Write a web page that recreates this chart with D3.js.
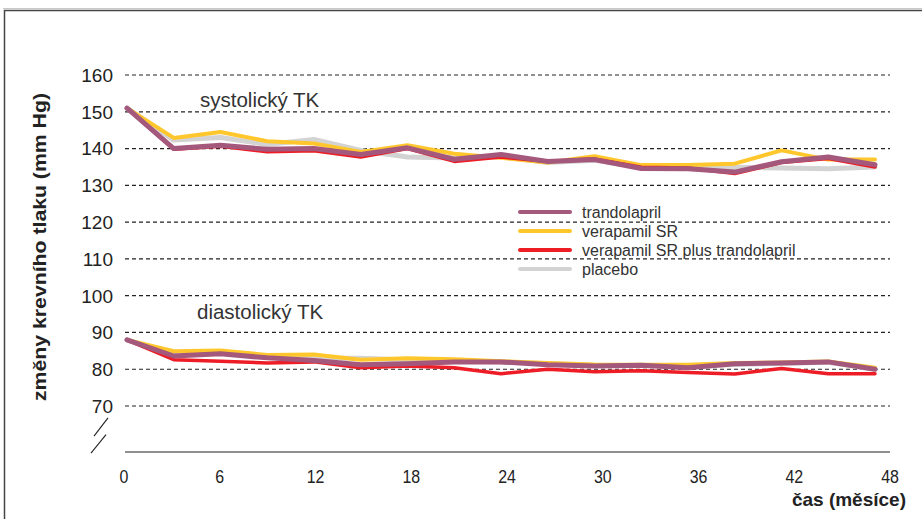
<!DOCTYPE html>
<html>
<head>
<meta charset="utf-8">
<script src="https://cdn.jsdelivr.net/npm/d3@7"></script>
<style>
  html, body { margin: 0; padding: 0; background: #fff; }
  svg { display: block; }
</style>
</head>
<body>
<svg id="chart" width="922" height="519"></svg>
<script>
// ---- data ----
const months = [0, 3, 6, 9, 12, 15, 18, 21, 24, 27, 30, 33, 36, 39, 42, 45, 48];
const xTicks = [0, 6, 12, 18, 24, 30, 36, 42, 48];
const yTicks = [70, 80, 90, 100, 110, 120, 130, 140, 150, 160];
const seriesNames = ["trandolapril", "verapamil SR", "verapamil SR plus trandolapril", "placebo"];

const sysTrandolapril = [151, 140, 140.9, 139.8, 140, 138.4, 140.2, 137.1, 138.4, 136.5, 137, 134.6, 134.5, 133.6, 136.4, 137.7, 135.6];
const sysVerapamil    = [151, 142.9, 144.5, 142, 141.4, 139.1, 140.9, 138.6, 137.5, 136.2, 137.9, 135.5, 135.5, 135.9, 139.5, 137, 137];
const sysCombo        = [151, 139.8, 140.6, 139.1, 139.4, 137.7, 140, 136.5, 137.7, 136.5, 137.2, 134.9, 134.7, 133.2, 136.2, 137.3, 135];
const sysPlacebo      = [151, 142.3, 143, 141.1, 142.5, 139.5, 137.7, 137.4, 137.8, 136.2, 136.8, 134.9, 134.9, 134.9, 134.7, 134.5, 135];

const diaTrandolapril = [88, 83.6, 84.2, 83.1, 82.4, 81.25, 81.5, 82, 82, 81.25, 80.9, 81.1, 80.4, 81.5, 81.7, 82, 80];
const diaVerapamil    = [88, 84.9, 85.1, 83.9, 84, 82.6, 83, 82.7, 82.2, 81.7, 81.3, 81.25, 81.25, 81.7, 81.8, 82.1, 80.4];
const diaCombo        = [88, 82.6, 82.2, 81.7, 82, 80.4, 80.9, 80.4, 78.8, 80, 79.3, 79.6, 79.1, 78.7, 80.2, 78.8, 78.8];
const diaPlacebo      = [88, 83.9, 84.5, 83.5, 83, 83, 82.5, 82.3, 82, 81.5, 81, 81, 80.8, 81.3, 81.6, 81.9, 80];

// ---- styles ----
const colors = { "trandolapril": "#A3587C", "verapamil SR": "#FFC72C", "verapamil SR plus trandolapril": "#EE1C25", "placebo": "#D3D3D3" };
const widths = { "trandolapril": 5, "verapamil SR": 4, "verapamil SR plus trandolapril": 3.5, "placebo": 5 };
const drawOrder = ["placebo", "verapamil SR", "verapamil SR plus trandolapril", "trandolapril"];

const seriesData = {
  "trandolapril": [sysTrandolapril, diaTrandolapril],
  "verapamil SR": [sysVerapamil, diaVerapamil],
  "verapamil SR plus trandolapril": [sysCombo, diaCombo],
  "placebo": [sysPlacebo, diaPlacebo]
};

const svg = d3.select("#chart");
const font = "'Liberation Sans', Arial, Helvetica, sans-serif";

// frame
svg.append("line").attr("x1", 3).attr("x2", 922).attr("y1", 8.5).attr("y2", 8.5).attr("stroke", "#c8c8c8").attr("stroke-width", 1);
svg.append("path").attr("d", "M4.5,519 V10.5 H922").attr("fill", "none").attr("stroke", "#444").attr("stroke-width", 1.5);

// scales
const xAxisScale = d3.scaleLinear().domain([0, 48]).range([124, 890]);
const xLine = d3.scaleLinear().domain([0, 48]).range([127, 875]);
const y = d3.scaleLinear().domain([57.5, 160]).range([452, 75]);

// gridlines
svg.append("g").selectAll("line").data(yTicks).join("line")
  .attr("x1", 125).attr("x2", 890)
  .attr("y1", d => y(d)).attr("y2", d => y(d))
  .attr("stroke", "#222").attr("stroke-width", 1.2).attr("stroke-dasharray", "4,3");

// baseline
svg.append("line").attr("x1", 125).attr("x2", 890).attr("y1", y(57.5)).attr("y2", y(57.5))
  .attr("stroke", "#222").attr("stroke-width", 1.2);

// y tick labels
svg.append("g").selectAll("text").data(yTicks).join("text")
  .attr("x", 113).attr("y", d => y(d)).attr("dy", "0.36em")
  .attr("text-anchor", "end").attr("font-family", font).attr("font-size", 19).attr("fill", "#222")
  .text(d => d);

// axis break marks
const br = svg.append("g").attr("stroke", "#222").attr("stroke-width", 1.1);
br.append("line").attr("x1", 108).attr("y1", y(66.8)).attr("x2", 94).attr("y2", y(61.8));
br.append("line").attr("x1", 106).attr("y1", y(62.2)).attr("x2", 91).attr("y2", y(57.2));

// x tick labels (condensed look)
svg.append("g").selectAll("text").data(xTicks).join("text")
  .attr("transform", d => `translate(${xAxisScale(d)},483) scale(0.84,1)`)
  .attr("text-anchor", "middle").attr("font-family", font).attr("font-size", 19).attr("fill", "#222")
  .text(d => d);

// axis titles
svg.append("text").attr("transform", "translate(906,506)").attr("text-anchor", "end")
  .attr("font-family", font).attr("font-weight", "bold").attr("font-size", 19).attr("fill", "#222")
  .text("čas (měsíce)");
svg.append("text").attr("transform", "translate(46,247) rotate(-90)").attr("text-anchor", "middle")
  .attr("font-family", font).attr("font-weight", "bold").attr("font-size", 19).attr("fill", "#222")
  .attr("textLength", 308).attr("lengthAdjust", "spacingAndGlyphs")
  .text("změny krevního tlaku (mm Hg)");

// section labels
svg.append("text").attr("x", 200).attr("y", 107).attr("font-family", font).attr("font-size", 20.5).attr("fill", "#333").text("systolický TK");
svg.append("text").attr("x", 197).attr("y", 319).attr("font-family", font).attr("font-size", 20.5).attr("fill", "#333").text("diastolický TK");

// lines
const line = d3.line().x((d, i) => xLine(months[i])).y(d => y(d));
const lg = svg.append("g").attr("fill", "none").attr("stroke-linejoin", "round").attr("stroke-linecap", "round");
drawOrder.forEach(name => {
  seriesData[name].forEach(arr => {
    lg.append("path").datum(arr).attr("d", line)
      .attr("stroke", colors[name]).attr("stroke-width", widths[name]);
  });
});

// legend
const legend = svg.append("g");
seriesNames.forEach((name, i) => {
  const yy = 212 + i * 19;
  legend.append("line").attr("x1", 520).attr("x2", 570).attr("y1", yy).attr("y2", yy)
    .attr("stroke", colors[name]).attr("stroke-width", 4).attr("stroke-linecap", "round");
  legend.append("text").attr("x", 582).attr("y", yy).attr("dy", "0.35em")
    .attr("font-family", font).attr("font-size", 16).attr("fill", "#333").text(name);
});
</script>
</body>
</html>
